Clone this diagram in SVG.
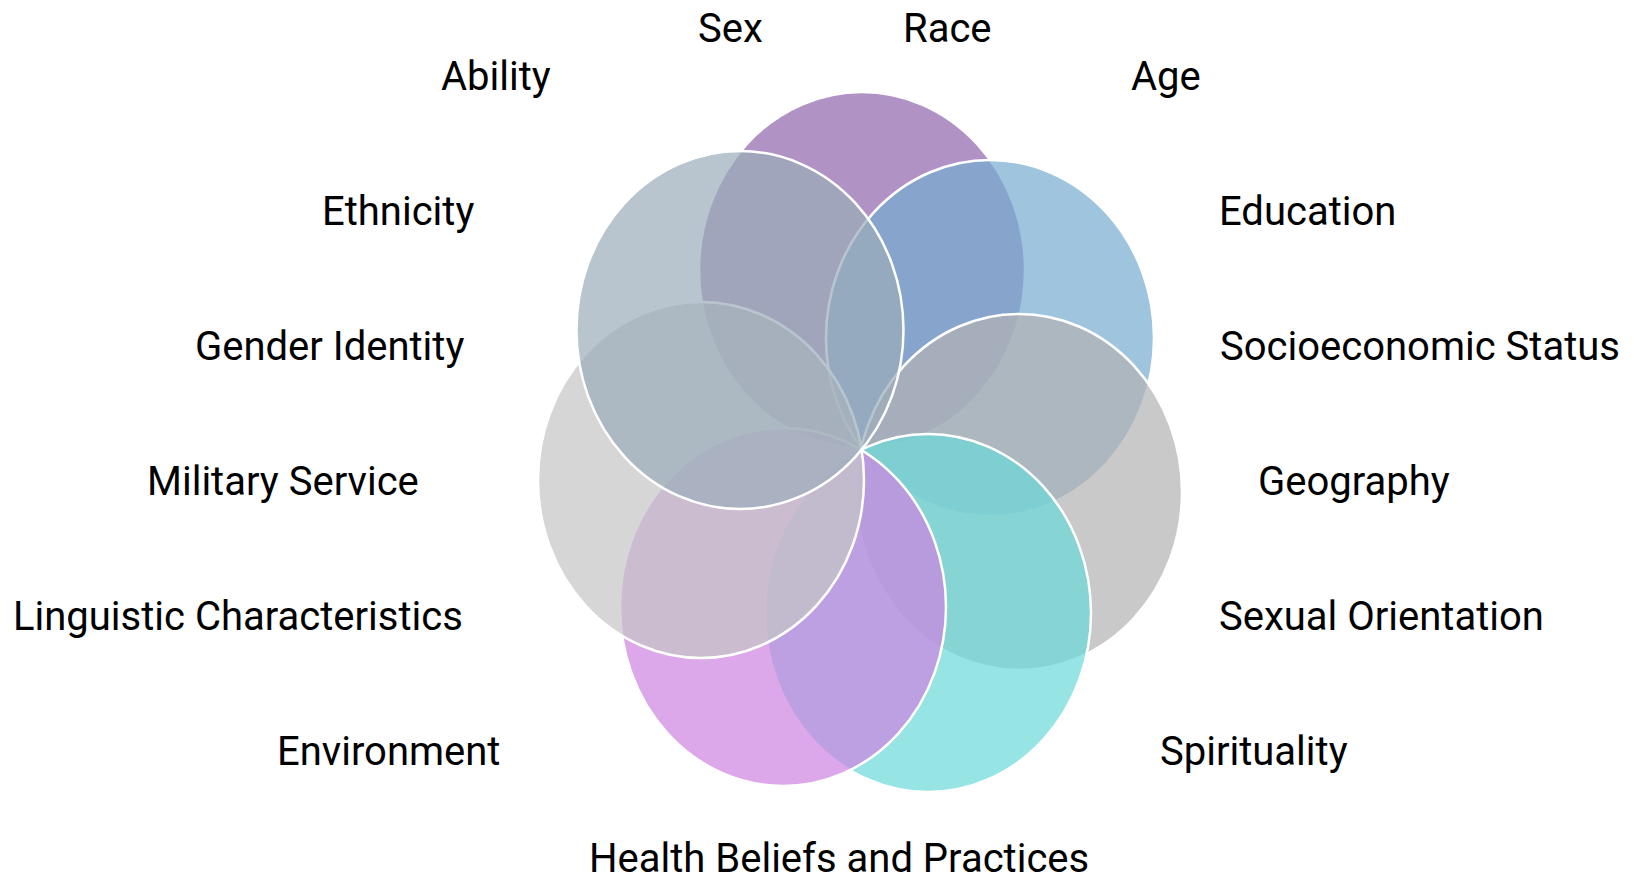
<svg xmlns="http://www.w3.org/2000/svg" width="1638" height="880" viewBox="0 0 1638 880">
<style>
.c{stroke:#ffffff;stroke-width:2.5;fill-opacity:0.7}
.t{font-family:Roboto,"Liberation Sans",sans-serif;font-size:40px;fill:#000000}
</style>
<rect width="1638" height="880" fill="#ffffff"/>
<g id="circles">
<g id="c-purple"><ellipse class="c" cx="862" cy="270" rx="163" ry="178" fill="#8e65ab"/></g>
<g id="c-blue"><ellipse class="c" cx="990" cy="338" rx="164" ry="178" fill="#76abd0"/></g>
<g id="c-gray-right"><ellipse class="c" cx="1019" cy="492" rx="163" ry="178" fill="#b2b2b2"/></g>
<g id="c-teal"><ellipse class="c" cx="928" cy="613" rx="163" ry="179" fill="#69d8d8"/></g>
<g id="c-pink"><ellipse class="c" cx="783" cy="607" rx="163" ry="179" fill="#cd83e1"/></g>
<g id="c-gray-left"><ellipse class="c" cx="701" cy="480" rx="163" ry="178" fill="#c5c5c5"/></g>
<g id="c-grayblue"><ellipse class="c" cx="740" cy="330" rx="163.5" ry="179" fill="#9bacb9"/></g>
</g>
<g id="labels">
<g id="l-sex"><text class="t" x="698" y="42">Sex</text></g>
<g id="l-race"><text class="t" x="903" y="42">Race</text></g>
<g id="l-ability"><text class="t" x="441" y="90">Ability</text></g>
<g id="l-age"><text class="t" x="1131" y="90">Age</text></g>
<g id="l-ethnicity"><text class="t" x="322" y="225">Ethnicity</text></g>
<g id="l-education"><text class="t" x="1219" y="225">Education</text></g>
<g id="l-gender"><text class="t" x="195" y="360">Gender Identity</text></g>
<g id="l-ses"><text class="t" x="1220" y="360">Socioeconomic Status</text></g>
<g id="l-military"><text class="t" x="147" y="495">Military Service</text></g>
<g id="l-geography"><text class="t" x="1258" y="495">Geography</text></g>
<g id="l-linguistic"><text class="t" x="13" y="630">Linguistic Characteristics</text></g>
<g id="l-sexual"><text class="t" x="1219" y="630">Sexual Orientation</text></g>
<g id="l-environment"><text class="t" x="277" y="765">Environment</text></g>
<g id="l-spirituality"><text class="t" x="1160" y="765">Spirituality</text></g>
<g id="l-health"><text class="t" x="589" y="872">Health Beliefs and Practices</text></g>
</g>
</svg>
